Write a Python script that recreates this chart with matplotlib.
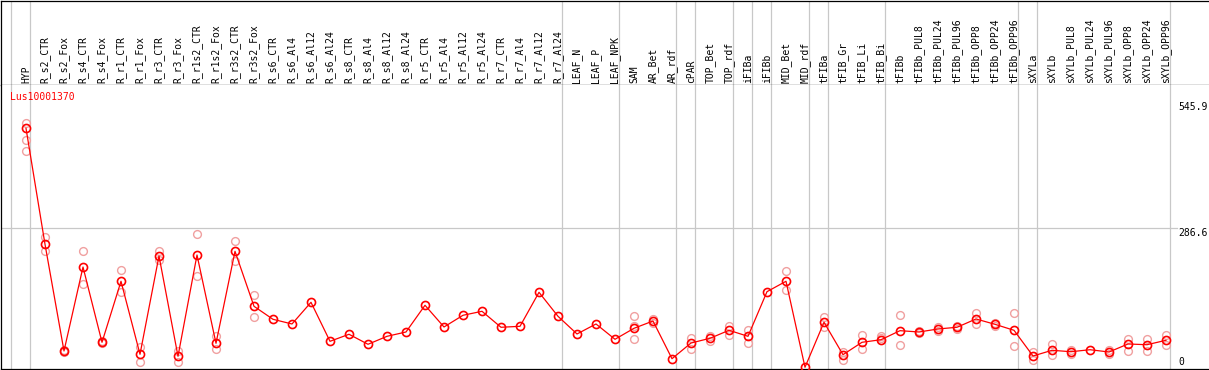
import numpy as np
import matplotlib
matplotlib.use("Agg")
import matplotlib.pyplot as plt

# column labels (left to right)
samples = [
    "HYP", "R_s2_CTR", "R_s2_Fox", "R_s4_CTR", "R_s4_Fox", "R_r1_CTR", "R_r1_Fox",
    "R_r3_CTR", "R_r3_Fox", "R_r1s2_CTR", "R_r1s2_Fox", "R_r3s2_CTR", "R_r3s2_Fox",
    "R_s6_CTR", "R_s6_Al4", "R_s6_Al12", "R_s6_Al24", "R_s8_CTR", "R_s8_Al4",
    "R_s8_Al12", "R_s8_Al24", "R_r5_CTR", "R_r5_Al4", "R_r5_Al12", "R_r5_Al24",
    "R_r7_CTR", "R_r7_Al4", "R_r7_Al12", "R_r7_Al24", "LEAF_N", "LEAF_P", "LEAF_NPK",
    "SAM", "AR_Bet", "AR_rdf", "cPAR", "TOP_Bet", "TOP_rdf", "iFIBa", "iFIBb",
    "MID_Bet", "MID_rdf", "tFIBa", "tFIB_Gr", "tFIB_Li", "tFIB_Bi", "tFIBb",
    "tFIBb_PUL8", "tFIBb_PUL24", "tFIBb_PUL96", "tFIBb_OPP8", "tFIBb_OPP24",
    "tFIBb_OPP96", "sXYLa", "sXYLb", "sXYLb_PUL8", "sXYLb_PUL24", "sXYLb_PUL96",
    "sXYLb_OPP8", "sXYLb_OPP24", "sXYLb_OPP96",
]

# mean expression per sample
means = [
    492.5, 253.7, 34.0, 206.9, 51.9, 177.5, 27.2, 229.6, 23.1, 231.6, 49.8, 239.2, 126.0,
    99.2, 89.6, 134.2, 53.9, 68.4, 47.8, 64.2, 73.1, 128.1, 83.4, 107.5, 115.7,
    82.8, 84.8, 154.8, 105.4, 69.0, 89.6, 58.1,
    80.7, 95.7, 18.1, 50.4, 60.1, 76.6, 64.2, 156.1,
    177.5, 0.5, 93.1, 26.4, 51.9, 57.2, 75.8,
    73.1, 79.3, 82.8, 99.9, 88.9, 76.6, 23.7, 35.4, 32.5, 36.6,
    31.9, 48.4, 46.9, 56.0,
]

# replicate values per sample (empty where none are visible)
replicates = [
    [502.8, 467.8, 445.1], [268.7, 239.2], [36.0, 31.9], [239.2, 171.3], [54.6, 49.4],
    [200.1, 156.1], [41.6, 11.9], [239.9, 221.3], [34.6, 10.7], [274.2, 187.8],
    [65.5, 37.5], [259.8, 218.7], [149.9, 103.4],
    [], [], [], [], [], [], [], [], [], [], [], [], [], [], [], [], [], [], [],
    [106.0, 86.1, 59.3], [99.2, 91.0], [], [60.7, 38.7], [64.9, 55.2], [86.1, 67.5],
    [77.2, 49.8], [], [198.1, 158.9], [], [104.0, 84.0], [32.5, 15.4], [66.9, 38.7],
    [65.5, 61.4], [107.5, 45.7], [75.1, 71.0], [84.0, 75.8], [85.4, 79.9],
    [111.6, 89.6], [92.6, 85.4], [111.6, 44.3], [31.3, 15.4], [47.8, 25.1],
    [36.0, 27.2], [], [36.0, 27.2], [58.7, 34.0], [58.7, 34.6], [66.3, 46.9],
]

# group separators sit just right of these columns
group_ends = [-1, 0, 28, 31, 34, 35, 37, 38, 39, 41, 42, 45, 52, 53, 60]

gene = "Lus10001370"
ymax_label = 545.9
ymid_label = 286.6

W, H = 1209, 370
fig = plt.figure(figsize=(W / 100, H / 100), dpi=100)

x = np.arange(len(samples))
xlim = ((1 - 26) / 19, (W - 26) / 19)

ax_h = fig.add_axes([1 / W, 1 - 85 / H, 1 - 1 / W, 85 / H - 0.6 / H])
ax = fig.add_axes([1 / W, 1 / H, 1 - 1 / W, 284 / H])

grey = "#c8c8c8"
for a in (ax_h, ax):
    a.set_xlim(*xlim)
    a.set_xticks([])
    a.set_yticks([])
    a.spines["right"].set_visible(False)
    for s in ("top", "bottom", "left"):
        a.spines[s].set_linewidth(0.9)
        a.spines[s].set_color("black")
    for g in group_ends:
        a.axvline(g + 0.23, color=grey, lw=0.9, zorder=0)

ax.spines["top"].set_visible(False)
ax_h.set_ylim(0, 1)

for xi, name in zip(x, samples):
    ax_h.text(xi, 0.018, name, rotation=90, ha="center", va="bottom",
              family="DejaVu Sans Mono", fontsize=7, color="black")

ax.set_ylim(-3.1, 581.6)
x_end = (1177 - 26) / 19
ax.plot([xlim[0], x_end], [ymid_label, ymid_label], color=grey, lw=0.9, zorder=0)

# replicates
rx = [xi for xi, r in zip(x, replicates) for _ in r]
ry = [v for r in replicates for v in r]
ax.plot(rx, ry, ls="none", marker="o", ms=5.6, mfc="none", mec="#f0a0a0",
        mew=1.0, zorder=2)

# mean line
ax.plot(x, means, color="red", lw=0.9, marker="o", ms=5.8, mfc="none",
        mec="red", mew=1.2, zorder=3)

ax.text(-0.84, 557, gene, color="red", family="DejaVu Sans Mono", fontsize=7,
        ha="left", va="center", zorder=4)

xr = (1178 - 26) / 19
ax.text(xr, ymax_label, f"{ymax_label}", family="DejaVu Sans Mono", fontsize=7,
        ha="left", va="top")
ax.text(xr, ymid_label, f"{ymid_label}", family="DejaVu Sans Mono", fontsize=7,
        ha="left", va="top")
ax.text(xr, 0, "0", family="DejaVu Sans Mono", fontsize=7, ha="left", va="bottom")

fig.savefig("out.png", dpi=100)
